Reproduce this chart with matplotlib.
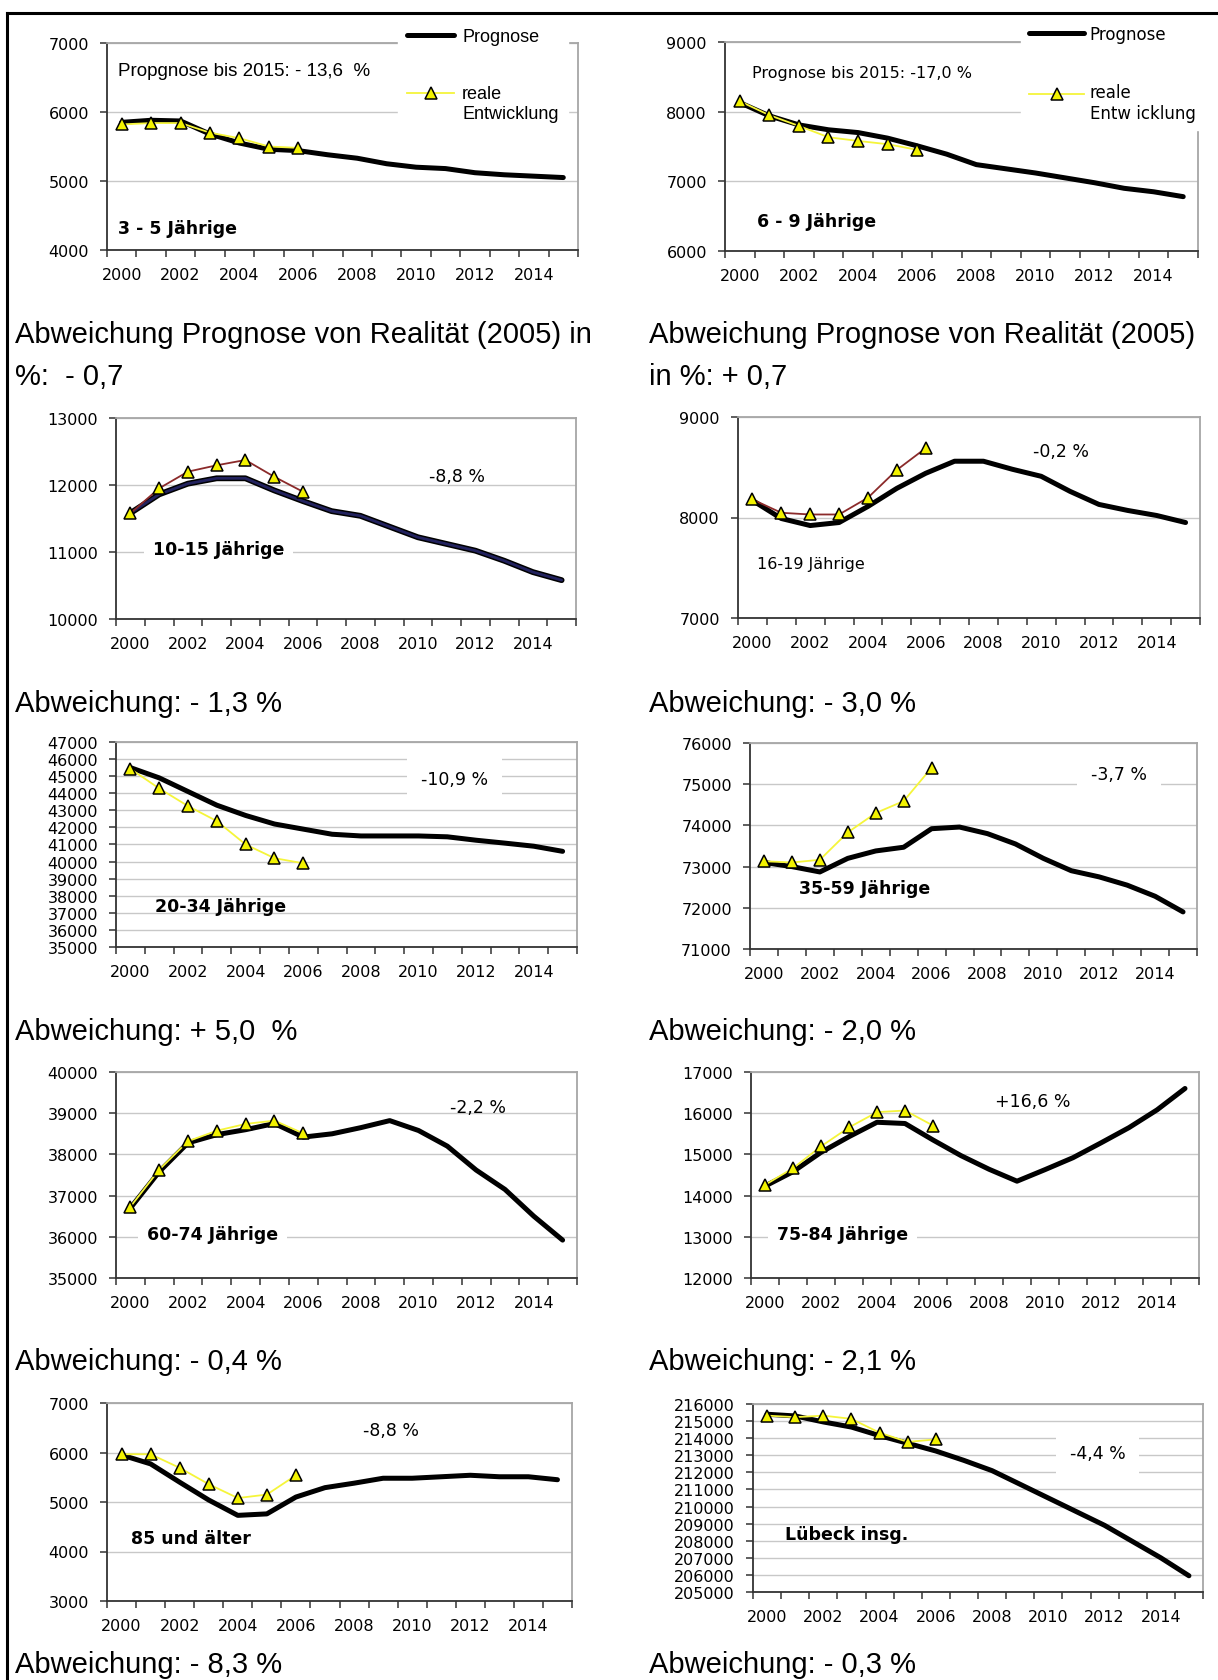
import matplotlib
matplotlib.use("Agg")
import numpy as np
import matplotlib.pyplot as plt
from matplotlib.lines import Line2D
from matplotlib.legend_handler import HandlerLine2D

plt.rcParams['font.family'] = ['Liberation Sans', 'DejaVu Sans']

# Categories (years) and the observed years
years = [2000, 2001, 2002, 2003, 2004, 2005, 2006, 2007,
         2008, 2009, 2010, 2011, 2012, 2013, 2014, 2015]
real_years = [2000, 2001, 2002, 2003, 2004, 2005, 2006]

# 3 - 5 Jährige
prog_3_5 = [5850, 5880, 5870, 5680, 5550, 5460, 5440, 5380,
            5330, 5250, 5200, 5180, 5120, 5090, 5070, 5050]
real_3_5 = [5820, 5840, 5840, 5700, 5620, 5500, 5480]

# 6 - 9 Jährige
prog_6_9 = [8130, 7940, 7810, 7740, 7700, 7620, 7510, 7390,
            7240, 7180, 7120, 7050, 6980, 6900, 6850, 6780]
real_6_9 = [8150, 7950, 7795, 7633, 7580, 7533, 7452]

# 10-15 Jährige
prog_10_15 = [11580, 11860, 12020, 12100, 12100, 11920, 11760, 11610,
              11540, 11380, 11220, 11120, 11020, 10870, 10700, 10580]
real_10_15 = [11577, 11950, 12199, 12294, 12373, 12124, 11900]

# 16-19 Jährige
prog_16_19 = [8170, 7990, 7920, 7950, 8110, 8290, 8440, 8560,
              8560, 8480, 8410, 8260, 8130, 8070, 8020, 7950]
real_16_19 = [8180, 8047, 8030, 8030, 8197, 8473, 8690]

# 20-34 Jährige
prog_20_34 = [45500, 44900, 44100, 43300, 42700, 42200, 41900, 41600,
              41500, 41500, 41500, 41450, 41250, 41080, 40900, 40600]
real_20_34 = [45430, 44280, 43250, 42370, 41000, 40200, 39900]

# 35-59 Jährige
prog_35_59 = [73100, 73000, 72870, 73200, 73380, 73470, 73920, 73960,
              73800, 73550, 73200, 72900, 72750, 72550, 72280, 71900]
real_35_59 = [73130, 73100, 73165, 73830, 74300, 74590, 75400]

# 60-74 Jährige
prog_60_74 = [36700, 37580, 38280, 38480, 38600, 38750, 38420, 38500,
              38650, 38820, 38580, 38200, 37620, 37150, 36500, 35920]
real_60_74 = [36730, 37630, 38320, 38575, 38740, 38820, 38510]

# 75-84 Jährige
prog_75_84 = [14230, 14580, 15050, 15430, 15780, 15750, 15350, 14970,
              14640, 14350, 14630, 14920, 15280, 15650, 16080, 16600]
real_75_84 = [14260, 14665, 15195, 15655, 16025, 16065, 15700]

# 85 und älter
prog_85 = [5950, 5770, 5400, 5040, 4730, 4760, 5100, 5290,
           5380, 5480, 5480, 5510, 5540, 5510, 5510, 5450]
real_85 = [5965, 5965, 5690, 5360, 5080, 5150, 5540]

# Lübeck insgesamt
prog_total = [215400, 215300, 214950, 214650, 214150, 213700, 213250, 212700,
              212100, 211300, 210500, 209700, 208900, 207950, 207000, 205950]
real_total = [215320, 215230, 215320, 215130, 214320, 213780, 213930]

# y axis ranges (min, max, step)
yranges = [(4000, 7000, 1000), (6000, 9000, 1000), (10000, 13000, 1000),
           (7000, 9000, 1000), (35000, 47000, 1000), (71000, 76000, 1000),
           (35000, 40000, 1000), (12000, 17000, 1000), (3000, 7000, 1000),
           (205000, 216000, 1000)]

group_labels = ["3 - 5 Jährige", "6 - 9 Jährige", "10-15 Jährige", "16-19 Jährige",
                "20-34 Jährige", "35-59 Jährige", "60-74 Jährige", "75-84 Jährige",
                "85 und älter", "Lübeck insg."]
pct_labels = ["Propgnose bis 2015: - 13,6  %", "Prognose bis 2015: -17,0 %",
              "-8,8 %", "-0,2 %", "-10,9 %", "-3,7 %", "-2,2 %", "+16,6 %",
              "-8,8 %", "-4,4 %"]

# texts between the charts: (left column, right column)
notes = [("Abweichung Prognose von Realität (2005) in\n%:  - 0,7",
          "Abweichung Prognose von Realität (2005)\nin %: + 0,7"),
         ("Abweichung: - 1,3 %", "Abweichung: - 3,0 %"),
         ("Abweichung: + 5,0  %", "Abweichung: - 2,0 %"),
         ("Abweichung: - 0,4 %", "Abweichung: - 2,1 %"),
         ("Abweichung: - 8,3 %", "Abweichung: - 0,3 %")]

prognoses = [prog_3_5, prog_6_9, prog_10_15, prog_16_19, prog_20_34,
             prog_35_59, prog_60_74, prog_75_84, prog_85, prog_total]
reals = [real_3_5, real_6_9, real_10_15, real_16_19, real_20_34,
         real_35_59, real_60_74, real_75_84, real_85, real_total]

# ---- layout (pixels in a 1218 x 1681 canvas) ----
W, H = 1218, 1681
# left, right, top, bottom of each plot area
boxes = [(107, 578, 44, 251), (725, 1198, 43, 252),
         (116, 576, 419, 620), (738, 1200, 418, 619),
         (116, 577, 743, 948), (750, 1197, 744, 950),
         (116, 577, 1073, 1279), (751, 1199, 1073, 1279),
         (107, 572, 1404, 1602), (753, 1203, 1405, 1593)]
# (x, y) in axes fraction of group label and percent label
group_pos = [(0.023, 0.106), (0.068, 0.144), (0.08, 0.348), (0.041, 0.269),
             (0.085, 0.198), (0.11, 0.297), (0.067, 0.216), (0.058, 0.213),
             (0.052, 0.318), (0.071, 0.31)]
pct_pos = [(0.023, 0.865), (0.057, 0.856), (0.68, 0.71), (0.638, 0.83),
           (0.662, 0.82), (0.763, 0.85), (0.725, 0.83), (0.545, 0.86),
           (0.55, 0.865), (0.704, 0.737)]
group_bold = [True, True, True, False, True, True, True, True, True, True]
group_box = [False, False, True, False, False, False, True, True, False, False]
pct_box = [False, False, False, False, True, True, False, False, False, True]

YELLOW = "#F2F200"
real_line_colors = ["#F5F53A", "#F5F53A", "#8B2A2A", "#8B2A2A", "#F5F53A",
                    "#F5F53A", "#F5F53A", "#F5F53A", "#F5F53A", "#F5F53A"]
TICKFONT = dict(family="DejaVu Sans", size=11.5)


class FirstLineHandler(HandlerLine2D):
    """Legend handle aligned with the first line of a two-line label."""

    def create_artists(self, legend, orig_handle, xdescent, ydescent,
                       width, height, fontsize, trans):
        artists = super().create_artists(legend, orig_handle, xdescent, ydescent,
                                         width, height, fontsize, trans)
        for a in artists:
            a.set_ydata(np.asarray(a.get_ydata(), dtype=float) + 0.6 * fontsize)
        return artists


fig = plt.figure(figsize=(W / 100, H / 100), dpi=100)

for i in range(10):
    l, r, t, b = boxes[i]
    ax = fig.add_axes([l / W, 1 - b / H, (r - l) / W, (b - t) / H])

    # Prognose
    if i == 2:
        ax.plot(years, prognoses[i], color="black", lw=4.2, solid_capstyle="round", zorder=3)
        ax.plot(years, prognoses[i], color="#22225E", lw=2.0, solid_capstyle="round", zorder=3)
        prog_line = Line2D([], [], color="black", lw=4)
    else:
        prog_line, = ax.plot(years, prognoses[i], color="black", lw=3.6,
                             solid_capstyle="round", solid_joinstyle="round", zorder=3)
    # reale Entwicklung
    real_line, = ax.plot(real_years, reals[i], color=real_line_colors[i], lw=1.3,
                         marker="^", markersize=9, markerfacecolor=YELLOW,
                         markeredgecolor="black", markeredgewidth=1.1, zorder=4)

    ymin, ymax, ystep = yranges[i]
    yt = list(range(ymin, ymax + 1, ystep))
    ax.set_ylim(ymin, ymax)
    ax.set_yticks(yt)
    ax.set_yticklabels([str(v) for v in yt], **TICKFONT)
    ax.set_xlim(1999.5, 2015.5)
    ax.set_xticks(years[::2])
    ax.set_xticklabels([str(y) for y in years[::2]], **TICKFONT)
    ax.set_xticks([y - 0.5 for y in years] + [2015.5], minor=True)
    ax.tick_params(axis="x", which="major", length=0, pad=12)
    ax.tick_params(axis="x", which="minor", length=5, width=1.1, color="#333333")
    ax.tick_params(axis="y", length=5, width=1.1, color="#333333", pad=8)

    ax.yaxis.grid(True, color="#c8c8c8", lw=1.0)
    ax.set_axisbelow(True)
    for s in ["left", "bottom"]:
        ax.spines[s].set_color("#333333")
        ax.spines[s].set_linewidth(1.3)
    for s in ["top", "right"]:
        ax.spines[s].set_color("#a6a6a6")
        ax.spines[s].set_linewidth(1.3)

    # labels inside the plot
    gx, gy = group_pos[i]
    gbox = dict(facecolor="white", edgecolor="none", boxstyle="square,pad=0.5") if group_box[i] else None
    if group_bold[i]:
        gfont = dict(family="DejaVu Sans", size=12.5, fontweight="bold")
    else:
        gfont = dict(family="DejaVu Sans", size=11.5)
    ax.text(gx, gy, group_labels[i], transform=ax.transAxes, va="center", ha="left",
            bbox=gbox, zorder=5, **gfont)
    px, py = pct_pos[i]
    pbox = dict(facecolor="white", edgecolor="none", boxstyle="square,pad=0.8") if pct_box[i] else None
    if i == 0:
        pfont = dict(family="Liberation Sans", size=13.5)
    elif i == 1:
        pfont = dict(family="DejaVu Sans", size=11.5)
    else:
        pfont = dict(family="DejaVu Sans", size=12.5)
    ax.text(px, py, pct_labels[i], transform=ax.transAxes, va="center", ha="left",
            bbox=pbox, zorder=5, **pfont)

    if i < 2:
        if i == 0:
            lprop = dict(family="Liberation Sans", size=13)
            anchor, hlen, hpad, lspace = (0.618, 1.115), 2.6, 0.45, 2.2
            real_label = "reale\nEntwicklung"
        else:
            lprop = dict(family="DejaVu Sans", size=12)
            anchor, hlen, hpad, lspace = (0.626, 1.12), 3.3, 0.32, 2.4
            real_label = "reale\nEntw icklung"
        leg = ax.legend([prog_line, real_line], ["Prognose", real_label], loc="upper left",
                        bbox_to_anchor=anchor, borderaxespad=0, frameon=True, fancybox=False,
                        facecolor="white", edgecolor="white", framealpha=1, prop=lprop,
                        handlelength=hlen, handletextpad=hpad, labelspacing=lspace,
                        borderpad=0.5, handler_map={real_line: FirstLineHandler()})
        leg.set_zorder(6)

# notes between the charts (text baselines in pixels)
note_base = [(343, 385), (712,), (1040,), (1370,), (1673,)]
for k, (left_txt, right_txt) in enumerate(notes):
    lines_l = left_txt.split("\n")
    lines_r = right_txt.split("\n")
    for j, yb in enumerate(note_base[k]):
        fig.text(15 / W, 1 - yb / H, lines_l[j], ha="left", va="baseline",
                 family="Liberation Sans", size=21)
        fig.text(649 / W, 1 - yb / H, lines_r[j], ha="left", va="baseline",
                 family="Liberation Sans", size=21)

# outer frame (left and top edges of the table)
fig.add_artist(Line2D([7 / W, 7 / W], [0, 1 - 14 / H], color="black", lw=2.2,
                      transform=fig.transFigure))
fig.add_artist(Line2D([7 / W, 1], [1 - 14 / H, 1 - 14 / H], color="black", lw=2.2,
                      transform=fig.transFigure))

fig.savefig("out.png", dpi=100)
